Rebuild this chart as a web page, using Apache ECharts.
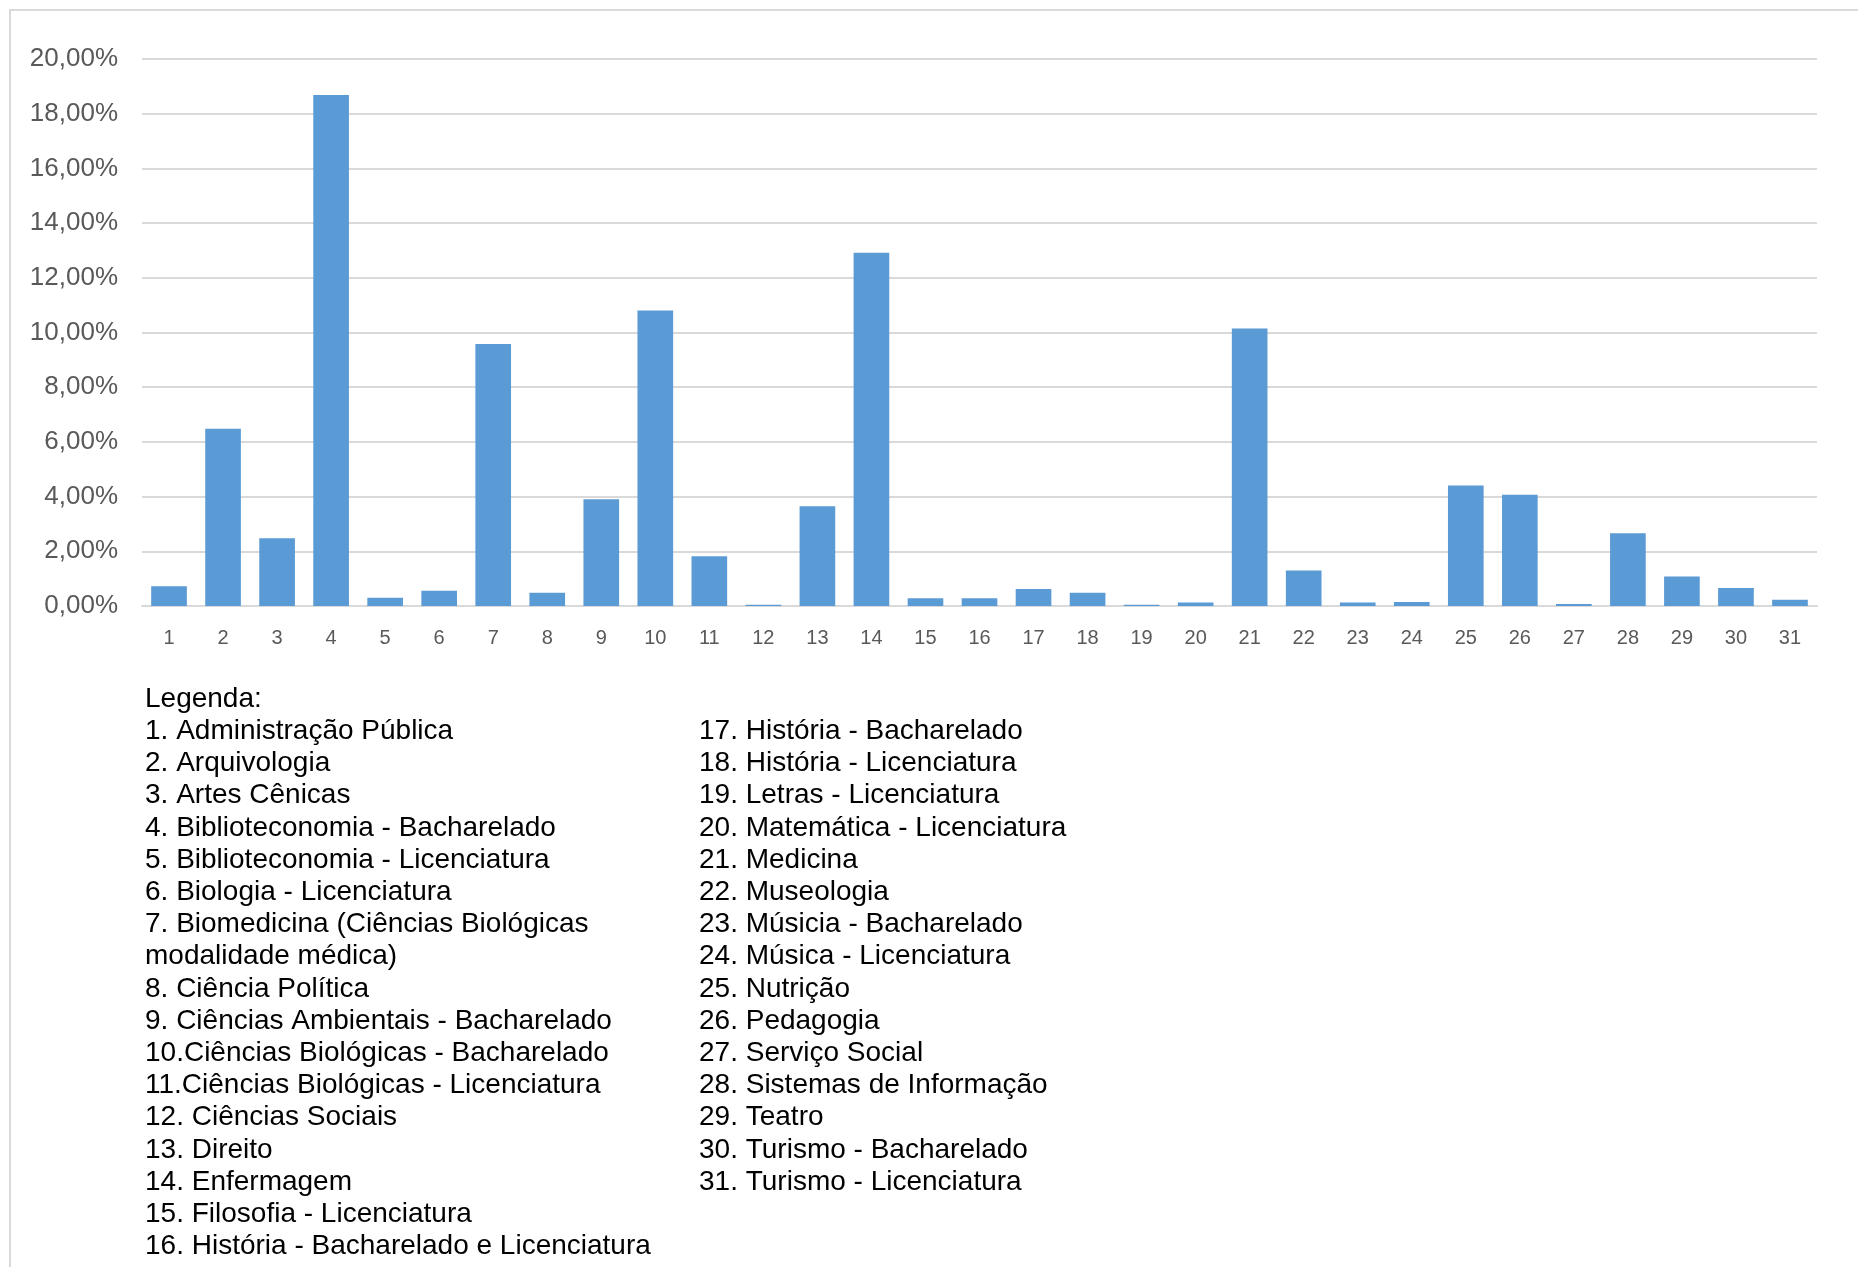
<!DOCTYPE html>
<html>
<head>
<meta charset="utf-8">
<script src="https://cdn.jsdelivr.net/npm/echarts@6/dist/echarts.min.js"></script>
<style>
html,body{margin:0;padding:0;background:#fff;}
#c{width:1858px;height:1267px;}
</style>
</head>
<body>
<div id="c"></div>
<script>
const categories = ['1','2','3','4','5','6','7','8','9','10','11','12','13','14','15','16','17','18','19','20','21','22','23','24','25','26','27','28','29','30','31'];
const values = [0.72, 6.48, 2.48, 18.68, 0.30, 0.56, 9.58, 0.48, 3.90, 10.80, 1.82, 0.05, 3.65, 12.92, 0.28, 0.28, 0.62, 0.48, 0.05, 0.13, 10.15, 1.30, 0.13, 0.15, 4.41, 4.07, 0.07, 2.66, 1.08, 0.66, 0.23];
const yTicks = { min: 0, max: 20, interval: 2 };
const legendTitle = 'Legenda:';
const legendCol1 = [
  '1. Administração Pública',
  '2. Arquivologia',
  '3. Artes Cênicas',
  '4. Biblioteconomia - Bacharelado',
  '5. Biblioteconomia - Licenciatura',
  '6. Biologia - Licenciatura',
  '7. Biomedicina (Ciências Biológicas',
  'modalidade médica)',
  '8. Ciência Política',
  '9. Ciências Ambientais - Bacharelado',
  '10.Ciências Biológicas - Bacharelado',
  '11.Ciências Biológicas - Licenciatura',
  '12. Ciências Sociais',
  '13. Direito',
  '14. Enfermagem',
  '15. Filosofia - Licenciatura',
  '16. História - Bacharelado e Licenciatura'
];
const legendCol2 = [
  '17. História - Bacharelado',
  '18. História - Licenciatura',
  '19. Letras - Licenciatura',
  '20. Matemática - Licenciatura',
  '21. Medicina',
  '22. Museologia',
  '23. Músicia - Bacharelado',
  '24. Música - Licenciatura',
  '25. Nutrição',
  '26. Pedagogia',
  '27. Serviço Social',
  '28. Sistemas de Informação',
  '29. Teatro',
  '30. Turismo - Bacharelado',
  '31. Turismo - Licenciatura'
];

const chart = echarts.init(document.getElementById('c'), null, {renderer: 'canvas'});
const LH = 32.2;
const legendFont = '28px "Liberation Sans", Arial, sans-serif';
chart.setOption({
  backgroundColor: '#ffffff',
  animation: false,
  grid: { left: 142, right: 41, top: 59, bottom: 661, containLabel: false },
  xAxis: {
    type: 'category',
    data: categories,
    axisLine: { show: true, lineStyle: { color: '#D9D9D9', width: 2 } },
    axisTick: { show: false },
    axisLabel: { color: '#595959', fontSize: 20, fontFamily: '"Liberation Sans", Arial, sans-serif', margin: 22, interval: 0 }
  },
  yAxis: {
    type: 'value',
    min: yTicks.min, max: yTicks.max, interval: yTicks.interval,
    axisLine: { show: false },
    axisTick: { show: false },
    splitLine: { lineStyle: { color: '#D9D9D9', width: 2 } },
    axisLabel: {
      color: '#595959', fontSize: 26, fontFamily: '"Liberation Sans", Arial, sans-serif', margin: 24,
      formatter: v => v.toFixed(2).replace('.', ',') + '%'
    }
  },
  series: [{
    type: 'bar',
    data: values,
    barCategoryGap: '34%',
    itemStyle: { color: '#5B9BD5' }
  }],
  graphic: [
    { type: 'rect', shape: { x: 10, y: 10, width: 1900, height: 1300 }, style: { fill: 'none', stroke: '#D9D9D9', lineWidth: 2 }, silent: true },
    { type: 'text', left: 145, top: 683, style: { text: [legendTitle].concat(legendCol1).join('\n'), font: legendFont, fill: '#000000', lineHeight: LH } },
    { type: 'text', left: 699, top: 683 + LH, style: { text: legendCol2.join('\n'), font: legendFont, fill: '#000000', lineHeight: LH } }
  ]
});
</script>
</body>
</html>
